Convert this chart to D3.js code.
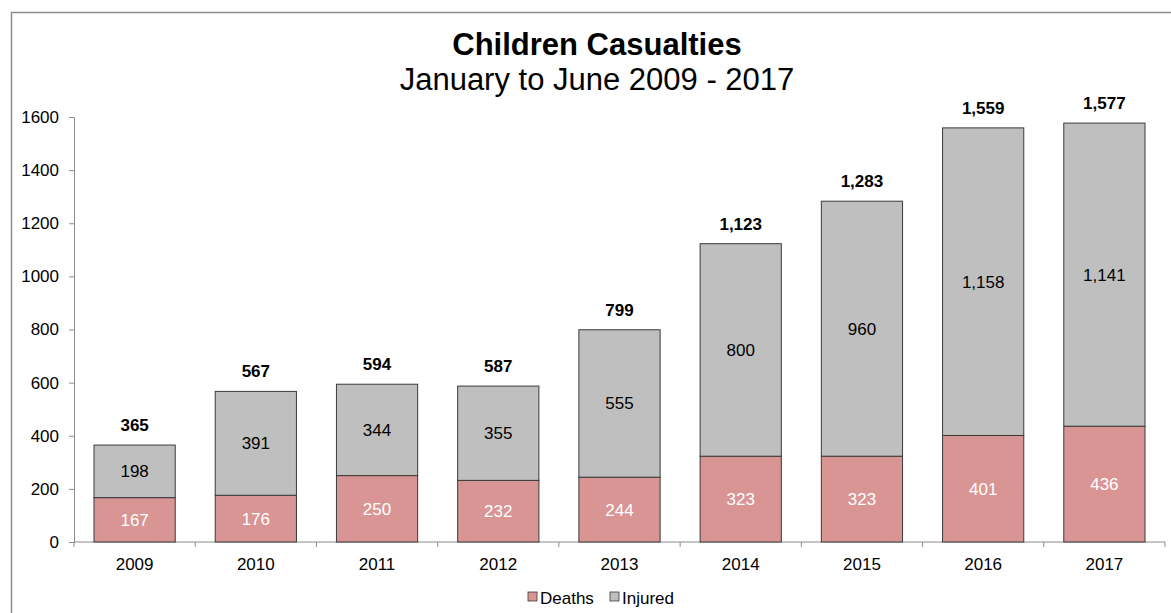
<!DOCTYPE html>
<html><head><meta charset="utf-8">
<script src="https://cdn.jsdelivr.net/npm/d3@7"></script>
<style>body{margin:0;background:#fff;font-family:"Liberation Sans",Arial,sans-serif}</style>
</head><body><svg id="c" width="1171" height="613"></svg>
<script>
const years = ["2009","2010","2011","2012","2013","2014","2015","2016","2017"];
const deaths = [167,176,250,232,244,323,323,401,436];
const injured = [198,391,344,355,555,800,960,1158,1141];
const totals = [365,567,594,587,799,1123,1283,1559,1577];
const yTicks = [0,200,400,600,800,1000,1200,1400,1600];
const seriesNames = ["Deaths","Injured"];
const colors = ["#D99594","#BFBFBF"];

const svg = d3.select("#c");
const font = "'Liberation Sans', Arial, sans-serif";
svg.append("rect").attr("x",11.5).attr("y",12.5).attr("width",1200).attr("height",700)
  .attr("fill","#fff").attr("stroke","#8c8c8c").attr("stroke-width",1.5);

const x = d3.scaleBand().domain(years).range([74,1165]).paddingInner(0.33).paddingOuter(0.165);
const y = d3.scaleLinear().domain([0,1600]).range([542,117]);

svg.append("text").attr("x",597).attr("y",55).attr("text-anchor","middle")
  .attr("font-family",font).attr("font-weight","bold").attr("font-size",31).text("Children Casualties");
svg.append("text").attr("x",597).attr("y",90).attr("text-anchor","middle")
  .attr("font-family",font).attr("font-size",31).text("January to June 2009 - 2017");

// y axis
const ya = svg.append("g").attr("transform","translate(74,0)")
  .call(d3.axisLeft(y).tickValues(yTicks).tickSize(5).tickPadding(10).tickFormat(d3.format("d")));
ya.select(".domain").attr("stroke","#8c8c8c");
ya.selectAll(".tick line").attr("stroke","#8c8c8c");
ya.selectAll("text").attr("font-family",font).attr("font-size",17).attr("fill","#000");

// x axis
const xa = svg.append("g").attr("transform","translate(0,542)");
xa.append("line").attr("x1",74).attr("x2",1165).attr("stroke","#8c8c8c");
const step = (1165-74)/years.length;
xa.selectAll("line.t").data(d3.range(years.length+1)).join("line").attr("class","t")
  .attr("x1",i=>74+i*step).attr("x2",i=>74+i*step).attr("y1",0).attr("y2",5).attr("stroke","#8c8c8c");
xa.selectAll("text").data(years).join("text")
  .attr("x",d=>x(d)+x.bandwidth()/2).attr("y",28).attr("text-anchor","middle")
  .attr("font-family",font).attr("font-size",17).text(d=>d);

// bars
const g = svg.append("g");
years.forEach((yr,i)=>{
  const bx = x(yr), bw = x.bandwidth();
  g.append("rect").attr("x",bx).attr("y",y(deaths[i])).attr("width",bw)
    .attr("height",y(0)-y(deaths[i])).attr("fill",colors[0]).attr("stroke","#3a3a3a").attr("stroke-width",1);
  g.append("rect").attr("x",bx).attr("y",y(deaths[i]+injured[i])).attr("width",bw)
    .attr("height",y(deaths[i])-y(deaths[i]+injured[i])).attr("fill",colors[1]).attr("stroke","#3a3a3a").attr("stroke-width",1);
  g.append("text").attr("x",bx+bw/2).attr("y",(y(0)+y(deaths[i]))/2+6).attr("text-anchor","middle")
    .attr("font-family",font).attr("font-size",17).attr("fill","#fff").text(d3.format(",")(deaths[i]));
  g.append("text").attr("x",bx+bw/2).attr("y",(y(deaths[i])+y(deaths[i]+injured[i]))/2+6).attr("text-anchor","middle")
    .attr("font-family",font).attr("font-size",17).attr("fill","#000").text(d3.format(",")(injured[i]));
  g.append("text").attr("x",bx+bw/2).attr("y",y(totals[i])-14).attr("text-anchor","middle")
    .attr("font-family",font).attr("font-size",17).attr("font-weight","bold").attr("fill","#000").text(d3.format(",")(totals[i]));
});

// legend
const lx = [528,610];
seriesNames.forEach((n,i)=>{
  svg.append("rect").attr("x",lx[i]).attr("y",592).attr("width",9).attr("height",9)
    .attr("fill",colors[i]).attr("stroke","#3a3a3a").attr("stroke-width",0.8);
  svg.append("text").attr("x",lx[i]+12).attr("y",604).attr("font-family",font).attr("font-size",17).text(n);
});
</script></body></html>
